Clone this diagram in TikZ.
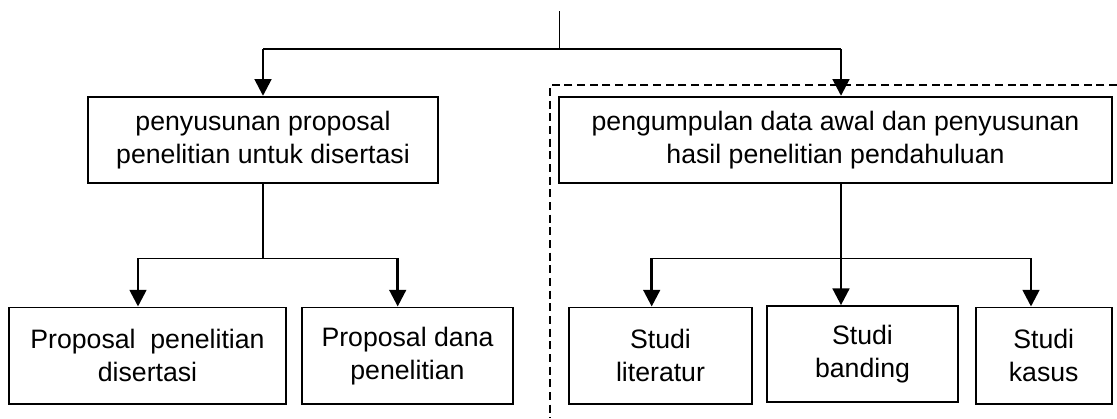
\documentclass[tikz,border=0pt]{standalone}
\usepackage{fontspec}
\setmainfont{Liberation Sans}
\usetikzlibrary{arrows.meta,calc}
\begin{document}
\begin{tikzpicture}[x=0.75pt,y=-0.75pt,
  box/.style={draw,line width=1.3pt,align=center,inner sep=0pt,
    font=\fontsize{20}{24.75}\selectfont},
  link/.style={line width=1pt},
  feed/.style={line width=2pt,-{Triangle[length=12.5pt,width=12.5pt]}},
  frame/.style={line width=1pt,dash pattern=on 6pt off 3.5pt}]
\useasboundingbox (0,0) rectangle (1117,418);

% dashed frame around the preliminary-research branch
\draw[frame] (1117,85) -| (550,418);

% boxes
\node[box,minimum width=262.5pt,minimum height=65pt] (prop) at (263,140)
  {penyusunan proposal\\penelitian untuk disertasi};
\node[box,minimum width=414.3pt,minimum height=65pt] (data) at (835.5,140)
  {pengumpulan data awal dan penyusunan\\hasil penelitian pendahuluan};
\node[box,minimum width=207.3pt,minimum height=72.5pt] (pdis) at (147.5,355.7)
  {Proposal\ \ penelitian\\disertasi};
\node[box,minimum width=158.7pt,minimum height=72.5pt] (pdana) at (407.5,355.7)
  {Proposal dana\\penelitian};
\node[box,minimum width=136.8pt,minimum height=72.5pt] (lit) at (660.5,355.7)
  {Studi\\literatur};
\node[box,minimum width=142.8pt,minimum height=72pt] (band) at (862.5,354)
  {Studi\\banding};
\node[box,minimum width=102pt,minimum height=72.5pt] (kasus) at (1043.7,355.7)
  {Studi\\kasus};

% top split
\coordinate (src) at (559.3,11);
\coordinate (hub) at (559.3,49);
\coordinate (hubL) at (263,49);
\coordinate (hubR) at (841,49);
\draw[link] (src) -- (hub);
\draw[link] (hubL) -- (hubR);
\draw[feed] (hubL) -- (hubL |- prop.north);
\draw[feed] (hubR) -- (hubR |- data.north);

% left split
\coordinate (jl) at (263,258.3);
\coordinate (jlA) at (138,258.3);
\coordinate (jlB) at (397.7,258.3);
\draw[link] (prop.south) -- (jl);
\draw[link] (jlA) -- (jlB);
\draw[feed] (jlA) -- (jlA |- pdis.north);
\draw[feed] (jlB) -- (jlB |- pdana.north);

% right split
\coordinate (jrL) at (651.7,258.3);
\coordinate (jrR) at (1031,258.3);
\draw[feed] (hubR |- data.south) -- (hubR |- band.north);
\draw[link] (jrL) -- (jrR);
\draw[feed] (jrL) -- (jrL |- lit.north);
\draw[feed] (jrR) -- (jrR |- kasus.north);
\end{tikzpicture}
\end{document}
